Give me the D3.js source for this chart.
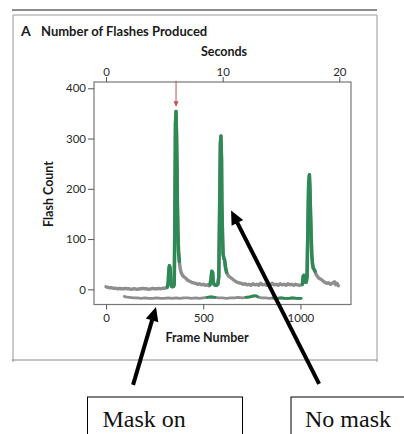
<!DOCTYPE html>
<html>
<head>
<meta charset="utf-8">
<script src="https://cdn.jsdelivr.net/npm/d3@7"></script>
<style>
  body { margin: 0; background: #fff; }
  text { font-family: Lato, "Open Sans", sans-serif; }
</style>
</head>
<body>
<div id="chart"></div>
<script>
// no mask trace (frame number, flash count)
var noMaskFrames = [0,10,20,30,40,50,60,70,80,90,100,110,120,130,140,150,160,170,180,190,200,210,220,230,240,250,260,270,280,290,300,
  310,315,320,323,326,330,333,337,342,347,351,354,357,360,363,365,367,370,373,377,382,387,393,400,410,420,430,440,450,460,470,480,490,500,510,520,530,
  535,540,544,548,552,557,563,569,575,580,584,588,591,594,596,599,602,606,610,615,620,627,635,645,655,665,675,685,695,705,715,725,735,745,755,765,775,
  785,795,805,815,825,835,845,855,865,875,885,895,905,915,925,935,945,955,965,975,985,995,1005,
  1010,1014,1018,1022,1026,1030,1034,1038,1042,1046,1049,1052,1055,1058,1062,1066,1070,1075,1080,1087,1095,1105,1115,1125,1135,1145,1155,1165,1175,1182,1188,1195];
var noMaskCounts = [5,4,3,3,2,2,1,2,1,1,2,1,1,0,1,1,0,1,1,2,1,1,0,1,2,1,1,2,1,2,2,
  3,4,15,40,47,42,12,6,5,6,10,150,330,354,300,245,170,110,75,55,40,33,28,25,22,18,16,14,13,12,10,11,9,10,8,9,7,
  9,22,36,34,14,9,8,8,10,25,160,290,305,260,170,110,70,62,58,42,34,28,25,22,19,16,14,13,12,10,11,9,10,8,11,9,10,
  8,12,9,10,8,11,9,12,9,10,8,11,9,10,8,11,9,10,8,10,9,8,9,
  10,26,28,20,14,14,25,120,210,228,200,150,110,70,50,42,40,36,30,26,22,20,17,14,12,13,10,12,15,9,12,7];
var noMaskGreen = [[312, 381], [532, 621], [1006, 1079]];

// mask on trace
var maskFrames = [94,100,120,140,160,180,200,220,240,260,280,300,320,340,360,380,400,420,440,460,480,500,520,540,560,580,600,
  620,640,660,680,700,720,740,760,770,780,800,820,840,860,880,900,920,940,960,980,1003];
var maskCounts = [-14,-15,-16,-17,-17,-18,-17,-18,-18,-17,-18,-18,-17,-18,-17,-18,-17,-17,-18,-17,-18,-17,-16,-15,-16,-17,-17,
  -18,-17,-17,-16,-17,-16,-15,-13,-13,-15,-17,-17,-18,-17,-18,-17,-18,-18,-17,-18,-18];
var maskGreen = [[513, 577], [716, 794], [860, 1003]];

var yTicks = [0, 100, 200, 300, 400];
var frameTicks = [0, 500, 1000];
var secondTicks = [0, 10, 20];
var fps = 60;

var width = 404, height = 434;
var plot = {left: 94, right: 351, top: 82, bottom: 304.5};

var gray = "#8e8e8e", green = "#2e8a55";

var svg = d3.select("#chart").append("svg")
    .attr("width", width)
    .attr("height", height);

svg.append("rect").attr("width", width).attr("height", height).attr("fill", "#fff");

// scales
var x = d3.scaleLinear().domain([-62, 1260]).range([plot.left, plot.right]);
var xs = d3.scaleLinear().domain([-62 / fps, 1260 / fps]).range([plot.left, plot.right]);
var y = d3.scaleLinear().domain([-30.2, 412.5]).range([plot.bottom, plot.top]);

// outer panel
svg.append("line").attr("x1", 12).attr("x2", 377).attr("y1", 10).attr("y2", 10)
    .attr("stroke", "#666").attr("stroke-width", 1.5);
svg.append("path").attr("d", "M13,362V15H377V362")
    .attr("fill", "none").attr("stroke", "#999").attr("stroke-width", 1);
svg.append("line").attr("x1", 12).attr("x2", 377).attr("y1", 360).attr("y2", 360)
    .attr("stroke", "#888").attr("stroke-width", 1);

// title
svg.append("text").attr("x", 21).attr("y", 36)
    .attr("font-size", 14).attr("font-weight", "bold").attr("fill", "#1a1a1a").text("A");
svg.append("text").attr("x", 41).attr("y", 36)
    .attr("font-size", 13).attr("font-weight", "bold").attr("fill", "#1a1a1a").text("Number of Flashes Produced");

// frame
svg.append("rect")
    .attr("x", plot.left).attr("y", plot.top)
    .attr("width", plot.right - plot.left).attr("height", plot.bottom - plot.top)
    .attr("fill", "none").attr("stroke", "#777").attr("stroke-width", 1.2);

function styleAxis(g) {
  g.select(".domain").remove();
  g.selectAll(".tick line").attr("stroke", "#555").attr("stroke-width", 1);
  g.selectAll(".tick text").attr("fill", "#2a2a2a").attr("font-size", 11.5)
      .style("font-family", "Lato, sans-serif");
}

svg.append("g")
    .attr("transform", "translate(0," + plot.top + ")")
    .call(d3.axisTop(xs).tickValues(secondTicks).tickSize(5).tickPadding(1).tickFormat(d3.format("d")))
    .call(styleAxis);

svg.append("g")
    .attr("transform", "translate(0," + plot.bottom + ")")
    .call(d3.axisBottom(x).tickValues(frameTicks).tickSize(5).tickPadding(4).tickFormat(d3.format("d")))
    .call(styleAxis);

svg.append("g")
    .attr("transform", "translate(" + plot.left + ",0)")
    .call(d3.axisLeft(y).tickValues(yTicks).tickSize(6).tickPadding(2).tickFormat(d3.format("d")))
    .call(styleAxis);

// axis titles
svg.append("text").attr("x", 224).attr("y", 56).attr("text-anchor", "middle")
    .attr("font-size", 12.5).attr("font-weight", "bold").attr("fill", "#1a1a1a").text("Seconds");
svg.append("text").attr("x", 207).attr("y", 342).attr("text-anchor", "middle")
    .attr("font-size", 12.5).attr("font-weight", "bold").attr("fill", "#1a1a1a").text("Frame Number");
svg.append("text").attr("transform", "translate(53,194) rotate(-90)").attr("text-anchor", "middle")
    .attr("font-size", 12.5).attr("font-weight", "bold").attr("fill", "#1a1a1a").text("Flash Count");

// traces
var line = d3.line()
    .x(function(d) { return x(d[0]); })
    .y(function(d) { return y(d[1]); });

function drawTrace(frames, counts, greens, w) {
  var pts = frames.map(function(f, i) { return [f, counts[i]]; });
  svg.append("path").datum(pts)
      .attr("d", line).attr("fill", "none")
      .attr("stroke", gray).attr("stroke-width", w)
      .attr("stroke-linejoin", "round").attr("stroke-linecap", "round");
  greens.forEach(function(r) {
    var seg = pts.filter(function(d) { return d[0] >= r[0] && d[0] <= r[1]; });
    svg.append("path").datum(seg)
        .attr("d", line).attr("fill", "none")
        .attr("stroke", green).attr("stroke-width", w)
        .attr("stroke-linejoin", "round").attr("stroke-linecap", "round");
  });
}

drawTrace(noMaskFrames, noMaskCounts, noMaskGreen, 3.4);
drawTrace(maskFrames, maskCounts, maskGreen, 2.8);

// red arrow over first peak
var redX = x(360);
svg.append("line").attr("x1", redX).attr("x2", redX).attr("y1", y(415)).attr("y2", y(372))
    .attr("stroke", "#c0504d").attr("stroke-width", 1);
svg.append("path")
    .attr("d", "M" + (redX - 2.5) + "," + y(374) + "L" + (redX + 2.5) + "," + y(374) + "L" + redX + "," + y(363) + "Z")
    .attr("fill", "#c0504d");

// black annotation arrows
function arrow(x1, y1, x2, y2) {
  var dx = x2 - x1, dy = y2 - y1, len = Math.sqrt(dx * dx + dy * dy);
  var ux = dx / len, uy = dy / len, head = 14, half = 6.5;
  var bx = x2 - ux * head, by = y2 - uy * head;
  svg.append("line").attr("x1", x1).attr("y1", y1).attr("x2", bx + ux * 2).attr("y2", by + uy * 2)
      .attr("stroke", "#000").attr("stroke-width", 4);
  svg.append("path")
      .attr("d", "M" + x2 + "," + y2 +
                 "L" + (bx - uy * half) + "," + (by + ux * half) +
                 "L" + (bx + uy * half) + "," + (by - ux * half) + "Z")
      .attr("fill", "#000");
}
arrow(x(139), y(-190), x(257), y(-35));
arrow(x(1096), y(-188), x(643), y(157));

// label boxes
svg.append("rect").attr("x", 87.5).attr("y", 397).attr("width", 155).attr("height", 60)
    .attr("fill", "#fff").attr("stroke", "#000").attr("stroke-width", 1);
svg.append("rect").attr("x", 291).attr("y", 397).attr("width", 140).attr("height", 60)
    .attr("fill", "#fff").attr("stroke", "#000").attr("stroke-width", 1);
svg.append("text").attr("x", 102.5).attr("y", 427).attr("font-size", 24)
    .style("font-family", "'Liberation Serif', serif").attr("fill", "#111").text("Mask on");
svg.append("text").attr("x", 305).attr("y", 427).attr("font-size", 24)
    .style("font-family", "'Liberation Serif', serif").attr("fill", "#111").text("No mask");
</script>
</body>
</html>
